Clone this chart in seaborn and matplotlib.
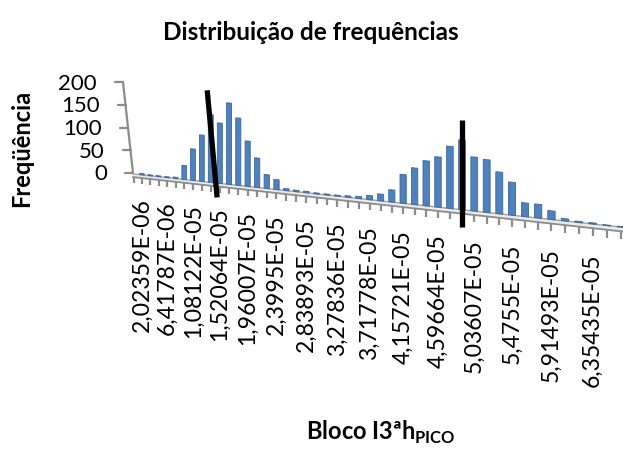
import numpy as np
import pandas as pd
import matplotlib
matplotlib.use("Agg")
import matplotlib.pyplot as plt
import matplotlib.transforms as mtransforms
import seaborn as sns

# ---- data -------------------------------------------------------------
# frequency per histogram bin (bins ordered left to right)
counts = [3, 2, 2, 2, 3, 30, 67, 98, 142, 126, 169, 139, 93, 60, 28, 20,
          4, 3, 3, 2, 2, 2, 3, 4, 8, 13, 23, 54, 68, 83, 92, 113, 126, 97,
          94, 74, 58, 24, 24, 15, 4, 2, 2, 1, 1]
bins = list(range(len(counts)))

# category labels shown on every third bin
tick_labels = ["2,02359E-06", "6,41787E-06", "1,08122E-05", "1,52064E-05",
               "1,96007E-05", "2,3995E-05", "2,83893E-05", "3,27836E-05",
               "3,71778E-05", "4,15721E-05", "4,59664E-05", "5,03607E-05",
               "5,4755E-05", "5,91493E-05", "6,35435E-05"]
label_every = 3

y_ticks = [0, 50, 100, 150, 200]

# threshold markers drawn over the bars, as (bin, count) end points
marker_lines = [((7.6, 193), (8.7, -30)), ((32.0, 162), (32.0, -31))]

# ---- styling / projection parameters ------------------------------------
W, H = 623, 449
FONT = "Lato"
BAR_COLOR = "#4F81BD"
BAR_EDGE = "#3A679E"
GRID_GRAY = "#8C8C8C"


class FloorProjection(mtransforms.Transform):
    """Maps (bin, count) onto a receding 3-D floor (pixel coordinates)."""
    input_dims = output_dims = 2
    is_separable = False
    has_inverse = False

    def __init__(self, x0, y0, step, recede, slope, unit):
        super().__init__()
        self.x0, self.y0, self.step = x0, y0, step
        self.recede, self.slope, self.unit = recede, slope, unit

    def transform_non_affine(self, values):
        values = np.asarray(values, dtype=float)
        j, v = values[:, 0], values[:, 1]
        w = 1.0 / (1.0 - self.recede * j)
        X = self.x0 + self.step * j * w
        Y = self.y0 + self.slope * (X - self.x0) - self.unit * v * w
        return np.column_stack([X, Y])


sns.set_theme(style="white")
plt.rcParams["font.family"] = [FONT, "DejaVu Sans"]
plt.rcParams["mathtext.fontset"] = "custom"
plt.rcParams["mathtext.rm"] = FONT
plt.rcParams["mathtext.bf"] = FONT + ":bold"

fig = plt.figure(figsize=(W / 100, H / 100), dpi=100)
ax = fig.add_axes([0, 0, 1, 1])

df = pd.DataFrame({"bin": bins, "count": counts})
sns.barplot(data=df, x="bin", y="count", ax=ax, color=BAR_COLOR,
            width=0.55, saturation=1, edgecolor=BAR_EDGE, linewidth=0.6)

proj = FloorProjection(x0=142, y0=174.9, step=8.215, recede=0.005578,
                       slope=0.109, unit=0.455)
floor_tr = proj + ax.transData
for p in ax.patches:
    p.set_transform(floor_tr)
    p.set_zorder(2)

ax.set_xlim(0, W)
ax.set_ylim(H, 0)
ax.axis("off")

# ---- floor ----------------------------------------------------------------
jj = np.linspace(-1.1, len(counts) + 1.5, 200)
top = np.column_stack([jj, np.zeros_like(jj)])
front = np.column_stack([jj, np.full_like(jj, -7.0)])
poly = np.vstack([top, front[::-1]])
ax.fill(poly[:, 0], poly[:, 1], color="#EBEBEB", transform=floor_tr, zorder=1)
ax.plot(jj, np.zeros_like(jj), color="#A6A6A6", lw=1.0, transform=floor_tr, zorder=1)
ax.plot(jj, np.full_like(jj, -7.0), color=GRID_GRAY, lw=1.3, transform=floor_tr, zorder=1)
for j in range(-1, len(counts) + 2):
    ax.plot([j, j], [-7, -20], color=GRID_GRAY, lw=1.6, transform=floor_tr,
            solid_capstyle="butt", zorder=1)

# category labels below the floor
for k, lab in enumerate(tick_labels):
    ax.text(k * label_every, -50, lab, transform=floor_tr, rotation=90,
            ha="center", va="top", fontsize=16.6, color="black")

# ---- value axis (back wall) -----------------------------------------------
def wall(v):
    return 133 - 10.0 * v / 200.0, 173 - 0.455 * v

(xa, ya), (xb, yb) = wall(0), wall(200)
ax.plot([xa, xb], [ya, yb], color=GRID_GRAY, lw=1.6, zorder=1)
for t in y_ticks:
    x, y = wall(t)
    ax.plot([x - 8, x], [y, y], color=GRID_GRAY, lw=1.6, zorder=1)
    ax.text(x - 26, y + 1.5, str(t), ha="right", va="center", fontsize=16,
            color="black")

# ---- threshold markers ------------------------------------------------------
for (j1, v1), (j2, v2) in marker_lines:
    ax.plot([j1, j2], [v1, v2], color="black", lw=3.8, transform=floor_tr,
            solid_capstyle="butt", zorder=5)

# ---- titles -----------------------------------------------------------------
ax.text(311, 32, "Distribuição de frequências", ha="center", va="center",
        fontsize=17.5, fontweight="bold", color="black")
ax.text(22, 148, "Freqüência", ha="center", va="center", rotation=90,
        fontsize=17, fontweight="bold", color="black")
ax.text(381, 440, r"Bloco I3ªh$_{\mathbf{PICO}}$", ha="center", va="baseline",
        fontsize=17, fontweight="bold", color="black")

fig.savefig("out.png", dpi=100)
